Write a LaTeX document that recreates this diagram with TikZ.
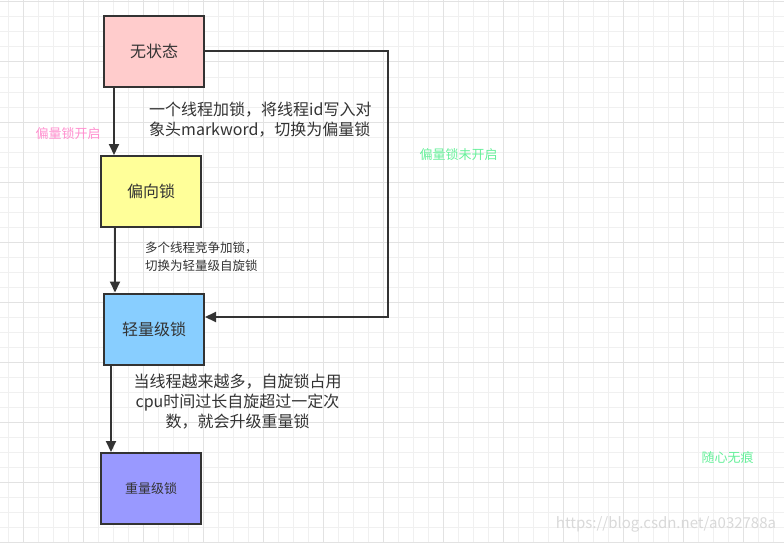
\documentclass[tikz,border=0pt]{standalone}
\usepackage{fontspec}
\newfontfamily\cjk{Noto Sans CJK SC}
\usetikzlibrary{arrows.meta}
\definecolor{ink}{HTML}{333333}
\definecolor{gminor}{HTML}{F0F0F0}
\definecolor{gmajor}{HTML}{E2E2E2}
\definecolor{cpink}{HTML}{FFCCCC}
\definecolor{cyellow}{HTML}{FFFF99}
\definecolor{cblue}{HTML}{88CEFF}
\definecolor{cviolet}{HTML}{9999FF}
\definecolor{tpink}{HTML}{FF8FCF}
\definecolor{tgreen}{HTML}{66F09A}
\tikzset{
  statebox/.style={draw=ink, line width=2pt, minimum width=100pt, minimum height=71pt, inner sep=0pt, font=\cjk\fontsize{16}{20}\selectfont, text=ink},
  arr/.style={draw=ink, line width=2pt, -{Triangle[length=11pt,width=10pt]}},
  lbl/.style={inner sep=0pt, text=ink, font=\cjk\fontsize{16}{20}\selectfont},
  small/.style={inner sep=0pt, text=ink, font=\cjk\fontsize{12.5}{17.5}\selectfont},
  note/.style={inner sep=0pt, font=\cjk\fontsize{13}{16}\selectfont},
  gridminor/.style={draw=gminor, line width=1pt},
  gridmajor/.style={draw=gmajor, line width=1pt}
}
\begin{document}
\begin{tikzpicture}[x=1pt,y=-1pt]
\useasboundingbox (0,0) rectangle (784,543);
\fill[white] (0,0) rectangle (784,543);
\foreach \x in {8,23,...,783} \draw[gridminor] (\x,0) -- (\x,543);
\foreach \y in {2,17,...,542} \draw[gridminor] (0,\y) -- (784,\y);
\foreach \x in {23,83,...,783} \draw[gridmajor] (\x,0) -- (\x,543);
\foreach \y in {2,62,...,542} \draw[gridmajor] (0,\y) -- (784,\y);

\node[statebox, fill=cpink] (s0) at (154,51.5) {无状态};
\node[statebox, fill=cyellow] (s1) at (151,191.5) {偏向锁};
\node[statebox, fill=cblue] (s2) at (154,329) {轻量级锁};
\node[statebox, fill=cviolet, font=\cjk\fontsize{13}{16}\selectfont] (s3) at (151,488.5) {重量级锁};

\draw[arr] ([xshift=11pt]s0.south west) -- ([xshift=14pt]s1.north west);
\draw[arr] ([xshift=15pt]s1.south west) -- ([xshift=12pt]s2.north west);
\draw[arr] ([xshift=8pt]s2.south west) -- ([xshift=11pt]s3.north west);
\coordinate (c1) at (388,51.5);
\draw[arr] (s0.east) -- (c1) |- ([yshift=12pt]s2.east);

\node[lbl, anchor=west, align=left] (l1) at (149,120) {一个线程加锁，将线程id写入对\\象头markword，切换为偏量锁};
\node[small, anchor=west, align=left] (l2) at (145,256.5) {多个线程竞争加锁，\\切换为轻量级自旋锁};
\node[lbl, align=center] (l3) at (237.5,401.5) {当线程越来越多，自旋锁占用\\cpu时间过长自旋超过一定次\\数，就会升级重量锁};
\node[note, text=tpink] (n1) at (68,134) {偏量锁开启};
\node[note, text=tgreen] (n2) at (458.5,155) {偏量锁未开启};
\node[note, text=tgreen] (n3) at (727.5,458) {随心无痕};
\node[inner sep=0pt, text=gray!30, font=\cjk\fontsize{15}{18}\selectfont] (wm) at (666,524) {https://blog.csdn.net/a032788a};
\end{tikzpicture}
\end{document}
